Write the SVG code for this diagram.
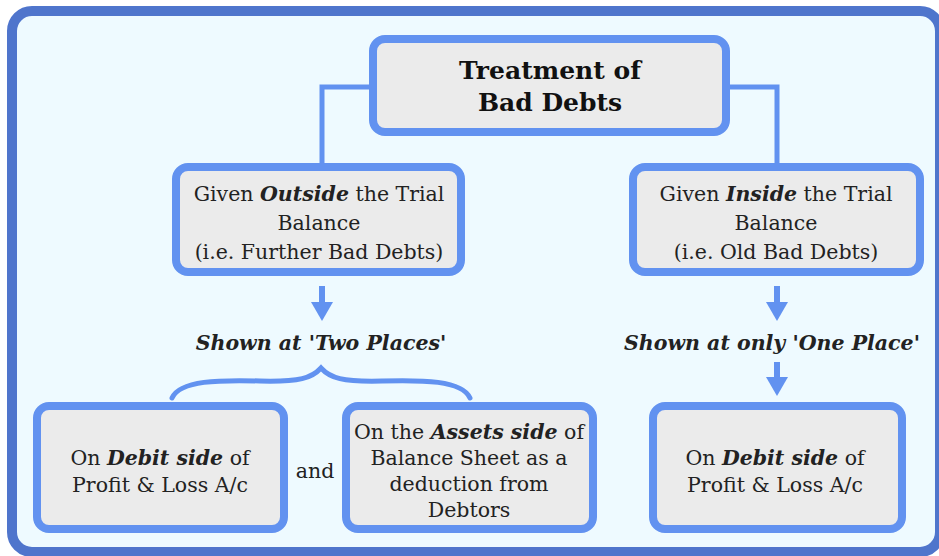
<svg xmlns="http://www.w3.org/2000/svg" width="939" height="556" viewBox="0 0 939 556">
<style>
.frame{fill:#eefaff;stroke:#4f75cc;stroke-width:10}
.box{fill:#ebebeb;stroke:#6292f0;stroke-width:8}
.t{font-family:"DejaVu Serif","Liberation Serif",serif;font-size:20.5px;fill:#222;text-anchor:middle}
.title{font-family:"DejaVu Serif","Liberation Serif",serif;font-size:25px;font-weight:bold;fill:#111;text-anchor:middle}
.bi{font-weight:bold;font-style:italic}
.conn{fill:none;stroke:#6292f0;stroke-width:5}
.arr{fill:#6292f0}
</style>
<rect class="frame" x="12" y="11" width="928" height="541" rx="20"/>
<g id="connectors">
<path class="conn" d="M372,87 H322 V165"/>
<path class="conn" d="M727,87 H777 V165"/>
<path class="conn" stroke-linecap="round" d="M172,398 C180,380 220,380 260,381 C300,382 312,378 321,368 C330,378 342,382 382,381 C422,380 462,380 470,398"/>
<g class="arr">
<rect x="319" y="286" width="6" height="18"/><polygon points="311,302 333,302 322,321"/>
<rect x="774" y="286" width="6" height="18"/><polygon points="766,302 788,302 777,321"/>
<rect x="774" y="362" width="6" height="18"/><polygon points="766,377 788,377 777,396"/>
</g>
</g>
<g id="root">
<rect class="box" x="373" y="39" width="353" height="93" rx="12"/>
<text class="title" x="550" y="79">Treatment of</text>
<text class="title" x="550" y="111">Bad Debts</text>
</g>
<g id="outside">
<rect class="box" x="176" y="167" width="285" height="105" rx="12"/>
<text class="t" x="319" y="201">Given <tspan class="bi">Outside</tspan> the Trial</text>
<text class="t" x="319" y="230">Balance</text>
<text class="t" x="319" y="259">(i.e. Further Bad Debts)</text>
</g>
<g id="inside">
<rect class="box" x="633" y="167" width="287" height="105" rx="12"/>
<text class="t" x="776" y="201">Given <tspan class="bi">Inside</tspan> the Trial</text>
<text class="t" x="776" y="230">Balance</text>
<text class="t" x="776" y="259">(i.e. Old Bad Debts)</text>
</g>
<g id="two-places">
<text class="t bi" x="321" y="350">Shown at 'Two Places'</text>
</g>
<g id="one-place">
<text class="t bi" x="772" y="350">Shown at only 'One Place'</text>
</g>
<g id="debit-left">
<rect class="box" x="37" y="406" width="247" height="123" rx="12"/>
<text class="t" x="160" y="465">On <tspan class="bi">Debit side</tspan> of</text>
<text class="t" x="160" y="492">Profit &amp; Loss A/c</text>
</g>
<g id="and">
<text class="t" x="315" y="478">and</text>
</g>
<g id="assets">
<rect class="box" x="346" y="406" width="247" height="123" rx="12"/>
<text class="t" x="469" y="439">On the <tspan class="bi">Assets side</tspan> of</text>
<text class="t" x="469" y="465">Balance Sheet as a</text>
<text class="t" x="469" y="491">deduction from</text>
<text class="t" x="469" y="517">Debtors</text>
</g>
<g id="debit-right">
<rect class="box" x="653" y="406" width="249" height="123" rx="12"/>
<text class="t" x="775" y="465">On <tspan class="bi">Debit side</tspan> of</text>
<text class="t" x="775" y="492">Profit &amp; Loss A/c</text>
</g>
</svg>
